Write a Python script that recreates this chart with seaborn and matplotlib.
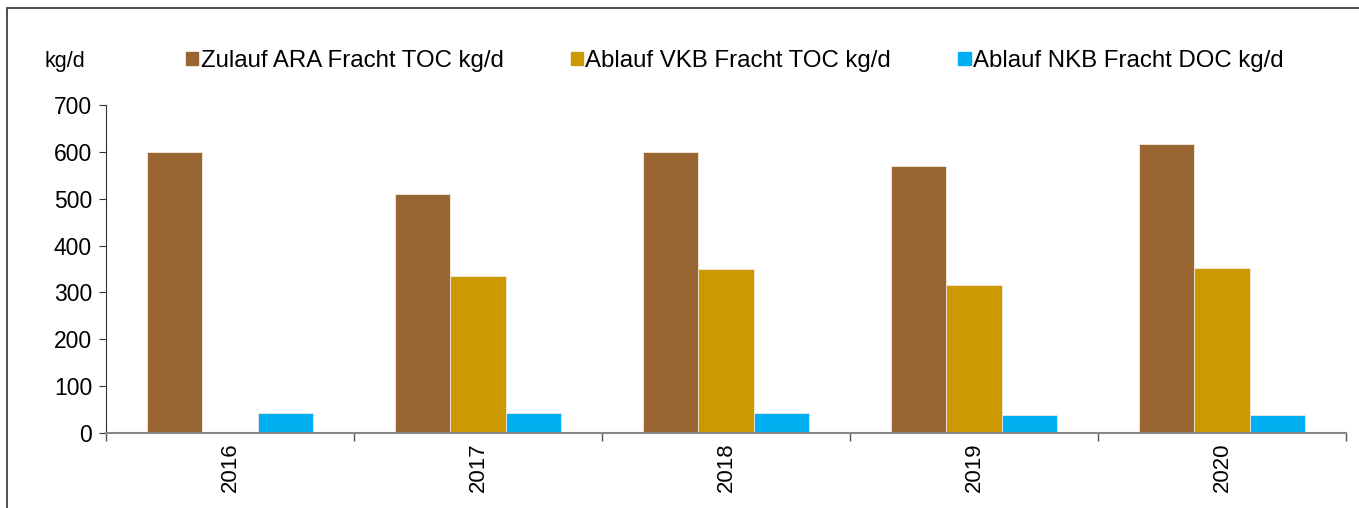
import numpy as np
import pandas as pd
import seaborn as sns
import matplotlib.pyplot as plt
from matplotlib.patches import Rectangle

years = ['2016', '2017', '2018', '2019', '2020']
zulauf_toc = [600, 510, 599, 569, 616]
ablauf_vkb_toc = [np.nan, 336, 349, 315, 353]
ablauf_nkb_doc = [42, 42, 42, 38, 38]
series = ['Zulauf ARA Fracht TOC kg/d', 'Ablauf VKB Fracht TOC kg/d', 'Ablauf NKB Fracht DOC kg/d']
colors = ['#996633', '#CC9900', '#00B0F0']

df = pd.DataFrame({'year': years * 3,
                   'value': zulauf_toc + ablauf_vkb_toc + ablauf_nkb_doc,
                   'series': [s for s in series for _ in years]})

sns.set_style('white')
plt.rcParams['font.family'] = ['Liberation Sans', 'DejaVu Sans']
plt.rcParams['text.color'] = 'black'
plt.rcParams['xtick.color'] = 'black'
plt.rcParams['ytick.color'] = 'black'

W, H = 1359, 508
fig = plt.figure(figsize=(W / 100, H / 100), dpi=100)
ax = fig.add_axes([106 / W, 1 - 433 / H, 1240 / W, 328 / H])

sns.barplot(data=df, x='year', y='value', hue='series', palette=colors,
            width=0.67, edgecolor='#f0e8e0', linewidth=0.6, ax=ax, saturation=1)

ax.set_ylim(0, 700)
ax.set_yticks(range(0, 701, 100))
ax.set_xlim(-0.5, 4.5)
ax.set_xlabel('')
ax.set_ylabel('')
# ticks between the year groups
ax.set_xticks(np.arange(-0.5, 5, 1), minor=True)
ax.tick_params(axis='x', which='major', length=0, labelrotation=90, pad=7, labelsize=16)
ax.tick_params(axis='x', which='minor', length=6, width=1, direction='out', color='#555555', bottom=True)
ax.tick_params(axis='y', length=5, direction='out', left=True, color='#333333', labelsize=16.5, pad=5)
for s in ['top', 'right']:
    ax.spines[s].set_visible(False)
ax.spines['left'].set_color('#333333')
ax.spines['bottom'].set_color('#888888')
ax.spines['bottom'].set_linewidth(1.5)

ax.get_legend().remove()
handles = [Rectangle((0, 0), 1, 1, color=c) for c in colors]
fig.legend(handles, series, loc='center', bbox_to_anchor=(735 / W, 1 - 61 / H), ncol=3,
           frameon=False, handlelength=0.5, handleheight=0.5, handletextpad=0.1,
           columnspacing=2.8, fontsize=17.3)

fig.text(45 / W, 1 - 62 / H, 'kg/d', fontsize=15.5, va='center', ha='left')

fig.patches.append(Rectangle((7 / W, -0.1), 1.2, 1 - 8 / H + 0.1, transform=fig.transFigure,
                             fill=False, edgecolor='#333333', linewidth=1.2))

fig.savefig('out.png', dpi=100)
